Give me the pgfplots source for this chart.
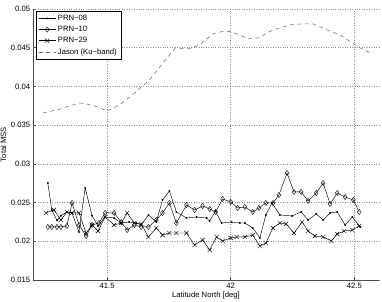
\documentclass[border=0pt]{standalone}
\usepackage{pgfplots}
\pgfplotsset{compat=1.18}
\usepackage{fontspec}
\setmainfont{Liberation Sans}
\begin{document}
\fontsize{7.7}{9}\selectfont
\begin{tikzpicture}
\path[use as bounding box] (-33pt,-21pt) rectangle (349pt,280pt);
\begin{axis}[
  at={(0pt,0pt)}, anchor=south west,
  scale only axis, width=346pt, height=271pt,
  xmin=41.2, xmax=42.6, ymin=0.015, ymax=0.05,
  xtick={41.5,42,42.5}, ytick={0.015,0.02,0.025,0.03,0.035,0.04,0.045,0.05},
  scaled y ticks=false, scaled x ticks=false,
  yticklabel style={/pgf/number format/fixed,/pgf/number format/precision=3},
  xticklabel style={/pgf/number format/fixed,/pgf/number format/precision=1},
  /pgf/number format/assume math mode=true,
  axis x line*=bottom, axis y line*=left,
  axis line style={-, black!70, line width=0.5pt},
  tick align=inside, tick style={black!70, line width=0.5pt},
  major tick length=3pt,
  grid=major, major grid style={dotted, black!45, line width=0.5pt},
  xlabel={Latitude North [deg]}, ylabel={Total MSS},
  xlabel style={at={(axis description cs:0.5,0)}, anchor=north, yshift=-9pt},
  ylabel style={at={(axis description cs:0,0.5)}, anchor=south, yshift=24pt},
  ticklabel style={font=\fontsize{7.7}{9}\selectfont},
  label style={font=\fontsize{7.7}{9}\selectfont},
  legend style={at={(0.009,0.993)}, anchor=north west, draw=black, line width=0.5pt,
    font=\fontsize{7.7}{8.5}\selectfont, inner xsep=2pt, inner ysep=2pt, row sep=0.6pt, fill=white},
  legend cell align=left,
]
\addplot[black, line width=0.45pt, mark=*, mark size=0.7pt] coordinates {
(41.260,0.02753)(41.276,0.02404)(41.297,0.02270)(41.313,0.02330)(41.337,0.02379)
(41.358,0.02366)(41.386,0.02120)(41.411,0.02689)(41.439,0.02330)(41.463,0.02200)
(41.492,0.02314)(41.528,0.02301)(41.557,0.02236)(41.589,0.02249)(41.618,0.02236)
(41.638,0.02211)(41.667,0.02340)(41.699,0.02249)(41.724,0.02534)(41.752,0.02650)
(41.780,0.02379)(41.821,0.02301)(41.862,0.02314)(41.902,0.02301)(41.915,0.02262)
(41.939,0.02391)(41.963,0.02236)(42.004,0.02249)(42.037,0.02236)(42.057,0.02236)
(42.089,0.02172)(42.118,0.02043)(42.142,0.02340)(42.167,0.02495)(42.199,0.02340)
(42.248,0.02327)(42.285,0.02379)(42.313,0.02275)(42.346,0.02353)(42.374,0.02275)
(42.402,0.02366)(42.431,0.02379)(42.463,0.02211)(42.492,0.02314)(42.524,0.02185)
};
\addlegendentry{PRN\textminus08}
\addplot[black, line width=0.45pt, mark=diamond, mark size=2.6pt, mark options={solid, line width=0.4pt, fill=none}] coordinates {
(41.260,0.02185)(41.276,0.02185)(41.297,0.02185)(41.313,0.02185)(41.337,0.02198)
(41.358,0.02495)(41.386,0.02211)(41.415,0.02068)(41.439,0.02211)(41.467,0.02236)
(41.492,0.02366)(41.528,0.02366)(41.557,0.02249)(41.581,0.02146)(41.610,0.02211)
(41.638,0.02185)(41.667,0.02185)(41.699,0.02275)(41.724,0.02366)(41.752,0.02495)
(41.780,0.02236)(41.821,0.02469)(41.854,0.02404)(41.886,0.02456)(41.915,0.02417)
(41.939,0.02379)(41.967,0.02547)(42.000,0.02508)(42.028,0.02430)(42.057,0.02443)
(42.089,0.02379)(42.114,0.02430)(42.142,0.02495)(42.171,0.02495)(42.195,0.02598)
(42.228,0.02882)(42.256,0.02637)(42.285,0.02637)(42.313,0.02521)(42.346,0.02624)
(42.374,0.02753)(42.402,0.02482)(42.431,0.02624)(42.463,0.02572)(42.496,0.02534)
(42.520,0.02379)
};
\addlegendentry{PRN\textminus10}
\addplot[black, line width=0.45pt, mark=x, mark size=3pt, mark options={solid, line width=0.4pt}] coordinates {
(41.252,0.02366)(41.285,0.02404)(41.313,0.02275)(41.337,0.02379)(41.358,0.02366)
(41.386,0.02366)(41.415,0.02107)(41.439,0.02211)(41.463,0.02133)(41.492,0.02314)
(41.528,0.02211)(41.557,0.02236)(41.581,0.02366)(41.610,0.02236)(41.638,0.02224)
(41.667,0.02056)(41.699,0.02172)(41.724,0.02081)(41.752,0.02107)(41.780,0.02107)
(41.821,0.02107)(41.854,0.01952)(41.886,0.02017)(41.915,0.01888)(41.943,0.02056)
(41.967,0.02004)(42.000,0.02043)(42.024,0.02056)(42.057,0.02056)(42.089,0.02081)
(42.118,0.01939)(42.142,0.01978)(42.171,0.02172)(42.199,0.02236)(42.224,0.02224)
(42.256,0.02107)(42.289,0.02249)(42.313,0.02133)(42.341,0.02068)(42.374,0.02056)
(42.407,0.02004)(42.431,0.02094)(42.459,0.02133)(42.492,0.02146)(42.520,0.02198)
};
\addlegendentry{PRN\textminus29}
\addplot[black!60, line width=0.5pt, dash pattern=on 4pt off 3.5pt] coordinates {
(41.240,0.03658)(41.300,0.03700)(41.350,0.03750)(41.390,0.03787)(41.440,0.03760)
(41.500,0.03683)(41.550,0.03760)(41.602,0.03890)(41.671,0.04084)(41.720,0.04280)
(41.776,0.04497)(41.833,0.04485)(41.874,0.04536)(41.927,0.04678)(41.976,0.04717)
(42.004,0.04704)(42.040,0.04660)(42.069,0.04614)(42.110,0.04627)(42.171,0.04730)
(42.240,0.04795)(42.289,0.04808)(42.333,0.04808)(42.390,0.04730)(42.443,0.04665)
(42.492,0.04562)(42.524,0.04497)(42.565,0.04433)
};
\addlegendentry{Jason (Ku\textminus band)}
\end{axis}
\end{tikzpicture}
\end{document}
